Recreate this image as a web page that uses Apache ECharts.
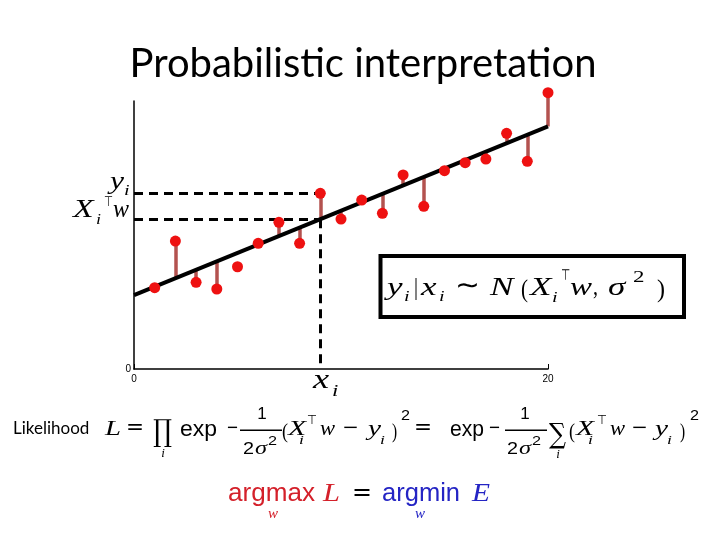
<!DOCTYPE html>
<html><head><meta charset="utf-8">
<script src="https://cdn.jsdelivr.net/npm/echarts@6/dist/echarts.min.js"></script>
<style>html,body{margin:0;padding:0;background:#fff}#c{width:720px;height:540px}</style>
</head><body><div id="c"></div>
<script>
// ---- data ----
var xs = [1,2,3,4,5,6,7,8,9,10,11,12,13,14,15,16,17,18,19,20];
var ys = [6.07,9.55,6.47,5.97,7.63,9.38,10.95,9.38,13.11,11.19,12.61,11.62,14.48,12.14,14.80,15.40,15.67,17.59,15.50,20.62];
var fitted = [6.15,6.78,7.41,8.04,8.67,9.29,9.92,10.55,11.18,11.81,12.44,13.07,13.70,14.33,14.96,15.58,16.21,16.84,17.47,18.10];
var stemShown = [true,true,true,true,false,true,true,true,true,true,true,true,true,true,true,true,true,true,true,true];
var lineX = [0,20];
var lineY = [5.52,18.10];
var highlightIndex = 8;
var xTickLabels = ['0','20'];
var yTickLabels = ['0'];

// ---- build series data ----
var scatterData = xs.map(function(x,i){return [x, ys[i]];});
var stemData = [];
xs.forEach(function(x,i){ if(stemShown[i]) stemData.push({coords:[[x,ys[i]],[x,fitted[i]]]}); });
var regData = lineX.map(function(x,i){return [x, lineY[i]];});
var hx = xs[highlightIndex];
var dashData = [
  {coords:[[0, ys[highlightIndex]],[hx, ys[highlightIndex]]]},
  {coords:[[0, fitted[highlightIndex]],[hx, fitted[highlightIndex]]]},
  {coords:[[hx, fitted[highlightIndex]],[hx, 0]]}
];

var SERIF = '"Liberation Serif","DejaVu Serif",serif';
var SANS = '"Liberation Sans",Arial,sans-serif';
var DJS = '"DejaVu Sans",sans-serif';
var DJSERIF = '"DejaVu Serif",serif';
var LATO = 'Lato,"Open Sans",sans-serif';
var mctx = document.createElement('canvas').getContext('2d');
function T(x, base, text, size, fam, o){
  o = o || {};
  var a = o.a || 'left';
  var font = (o.it?'italic ':'')+size+'px '+fam;
  var sx = 1;
  if (o.w) {
    mctx.font = font;
    var mw = mctx.measureText(text).width;
    if (mw > 0) sx = Math.max(0.7, Math.min(1.35, o.w / mw));
  }
  return {type:'text', x:x, y: base - 0.34*size, scaleX:sx, silent:true, z:100,
    style:{text:text, font:font, fill:o.c||'#000',
      align:a, textAlign:a, verticalAlign:'middle', textVerticalAlign:'middle'}};
}
function bar(x1,x2,y){ return {type:'rect', silent:true, z:100, shape:{x:x1,y:y,width:x2-x1,height:1.6}, style:{fill:'#000'}}; }

var B = 437, S = 22;
var RED = '#d4202a', BLUE = '#2424c4';
var g = [
  T(363,78,'Probabilistic interpretation',40,LATO,{a:'center'}),
  // left labels
  T(110,191,'y',25,SERIF,{it:1,w:14}), T(124,196,'i',15,SERIF,{it:1,w:6}),
  T(73,219,'X',25,SERIF,{it:1,w:23}), T(96,225,'i',14,SERIF,{it:1,w:5}), T(104,207,'⊤',14,DJS,{w:9}), T(113,219,'w',25,SERIF,{it:1,w:16}),
  // x_i
  T(313,390,'x',27,SERIF,{it:1,w:18}), T(332,397,'i',17,SERIF,{it:1,w:8}),
  // boxed formula
  {type:'rect', silent:true, z:90, shape:{x:380.5,y:256,width:303.5,height:61}, style:{fill:'#fff',stroke:'#000',lineWidth:4}},
  T(387,297,'y',26,SERIF,{it:1,w:17}), T(404,302,'i',15,SERIF,{it:1,w:7}), T(414,297,'|',25,SERIF,{w:4}),
  T(421,297,'x',26,SERIF,{it:1,w:18}), T(439,302,'i',15,SERIF,{it:1,w:7}), T(455,296,'∼',27,DJS,{w:25}),
  T(490,297,'N',26,SERIF,{it:1,w:28}), T(521,299,'(',25,SERIF,{w:7}), T(530,297,'X',26,SERIF,{it:1,w:23}),
  T(552,303,'i',15,SERIF,{it:1,w:7}), T(561,281,'⊤',15,DJS,{w:9}), T(570,297,'w',26,SERIF,{it:1,w:22}),
  T(593,297,',',25,SERIF,{w:5}), T(608,297,'σ',26,SERIF,{it:1,w:20}), T(633,283,'2',17,SERIF,{w:13}), T(657,299,')',25,SERIF,{w:8}),
  // likelihood
  T(13,434,'Likelihood',17,LATO),
  T(105,B,'L',S,SERIF,{it:1,w:16}), T(126,B-1,'=',21,DJS,{w:18}),
  T(153,443,'∏',30,DJSERIF,{w:19}), T(163,458,'i',13,SERIF,{it:1,a:'center'}),
  T(180,B,'exp',22,SANS,{w:37}), T(227,B-2,'−',20,SANS,{w:11}),
  T(262,420,'1',17,SANS,{a:'center'}), bar(240,282,429.5),
  T(243,455,'2',17,SANS,{w:11}), T(255,455,'σ',18,SERIF,{it:1,w:12}), T(268,446,'2',13,SANS,{w:9}),
  T(282,440,'(',22,SERIF,{w:6}), T(288,B,'X',S,SERIF,{it:1,w:19}), T(299,445,'i',13,SERIF,{it:1,w:5}),
  T(307,425,'⊤',13,DJS,{w:10}), T(320,B,'w',S,SERIF,{it:1,w:15}), T(343,B-2,'−',20,SANS,{w:15}),
  T(368,B,'y',S,SERIF,{it:1,w:13}), T(380,445,'i',13,SERIF,{it:1,w:5}), T(392,440,')',22,SERIF,{w:5}),
  T(401,421,'2',14,SANS,{w:9}),
  T(414,B-1,'=',21,DJS,{w:18}), T(450,B,'exp',22,SANS,{w:34}), T(489,B-2,'−',20,SANS,{w:11}),
  T(525,420,'1',17,SANS,{a:'center'}), bar(505,547,429.5),
  T(507,455,'2',17,SANS,{w:11}), T(519,455,'σ',18,SERIF,{it:1,w:12}), T(532,446,'2',13,SANS,{w:9}),
  T(549,445,'∑',28,DJSERIF,{w:17}), T(558,459,'i',13,SERIF,{it:1,a:'center'}),
  T(569,440,'(',22,SERIF,{w:6}), T(576,B,'X',S,SERIF,{it:1,w:19}), T(588,445,'i',13,SERIF,{it:1,w:5}),
  T(597,425,'⊤',13,DJS,{w:10}), T(610,B,'w',S,SERIF,{it:1,w:15}), T(632,B-2,'−',20,SANS,{w:15}),
  T(655,B,'y',S,SERIF,{it:1,w:13}), T(667,445,'i',13,SERIF,{it:1,w:5}), T(680,440,')',22,SERIF,{w:5}),
  T(690,421,'2',14,SANS,{w:9}),
  // argmax = argmin
  T(228,503,'argmax',25,SANS,{c:RED,w:87}), T(323,503,'L',25,SERIF,{it:1,c:RED,w:17}), T(273,519,'w',15,SERIF,{it:1,c:RED,a:'center'}),
  T(352,502,'=',24,DJS,{w:20}), T(382,503,'argmin',25,SANS,{c:BLUE,w:78}), T(472,503,'E',25,SERIF,{it:1,c:BLUE,w:18}),
  T(420,519,'w',15,SERIF,{it:1,c:BLUE,a:'center'})
];

var chart = echarts.init(document.getElementById('c'), null, {renderer:'canvas'});
chart.setOption({
  backgroundColor:'#fff',
  animation:false,
  grid:{left:134, right:172, top:101, bottom:171},
  xAxis:{type:'value', min:0, max:20, interval:20,
    axisLine:{lineStyle:{color:'#000', width:1.5}},
    axisTick:{show:true, inside:true, length:5, lineStyle:{color:'#000'}},
    splitLine:{show:false},
    axisLabel:{color:'#000', fontSize:10, fontFamily:SANS, margin:5,
      formatter:function(v){ return v===0?xTickLabels[0]:(v===20?xTickLabels[1]:''); }}},
  yAxis:{type:'value', min:0, max:20, interval:20,
    axisLine:{show:true, lineStyle:{color:'#000', width:1.5}},
    axisTick:{show:false}, splitLine:{show:false},
    axisLabel:{color:'#000', fontSize:10, fontFamily:SANS, margin:3, showMaxLabel:false,
      formatter:function(v){ return v===0?yTickLabels[0]:''; }}},
  series:[
    {type:'lines', coordinateSystem:'cartesian2d', z:1, clip:false, silent:true,
      lineStyle:{color:'#b3524f', width:3.5, opacity:1}, data:stemData},
    {type:'line', z:2, clip:false, symbol:'none', silent:true,
      lineStyle:{color:'#000', width:4}, data:regData},
    {type:'lines', coordinateSystem:'cartesian2d', z:2, clip:false, silent:true,
      lineStyle:{color:'#000', width:3, type:[9,6], opacity:1}, data:dashData},
    {type:'scatter', z:3, clip:false, symbolSize:11, silent:true,
      itemStyle:{color:'#ee1111', opacity:1}, data:scatterData}
  ],
  graphic:g
});
</script></body></html>
